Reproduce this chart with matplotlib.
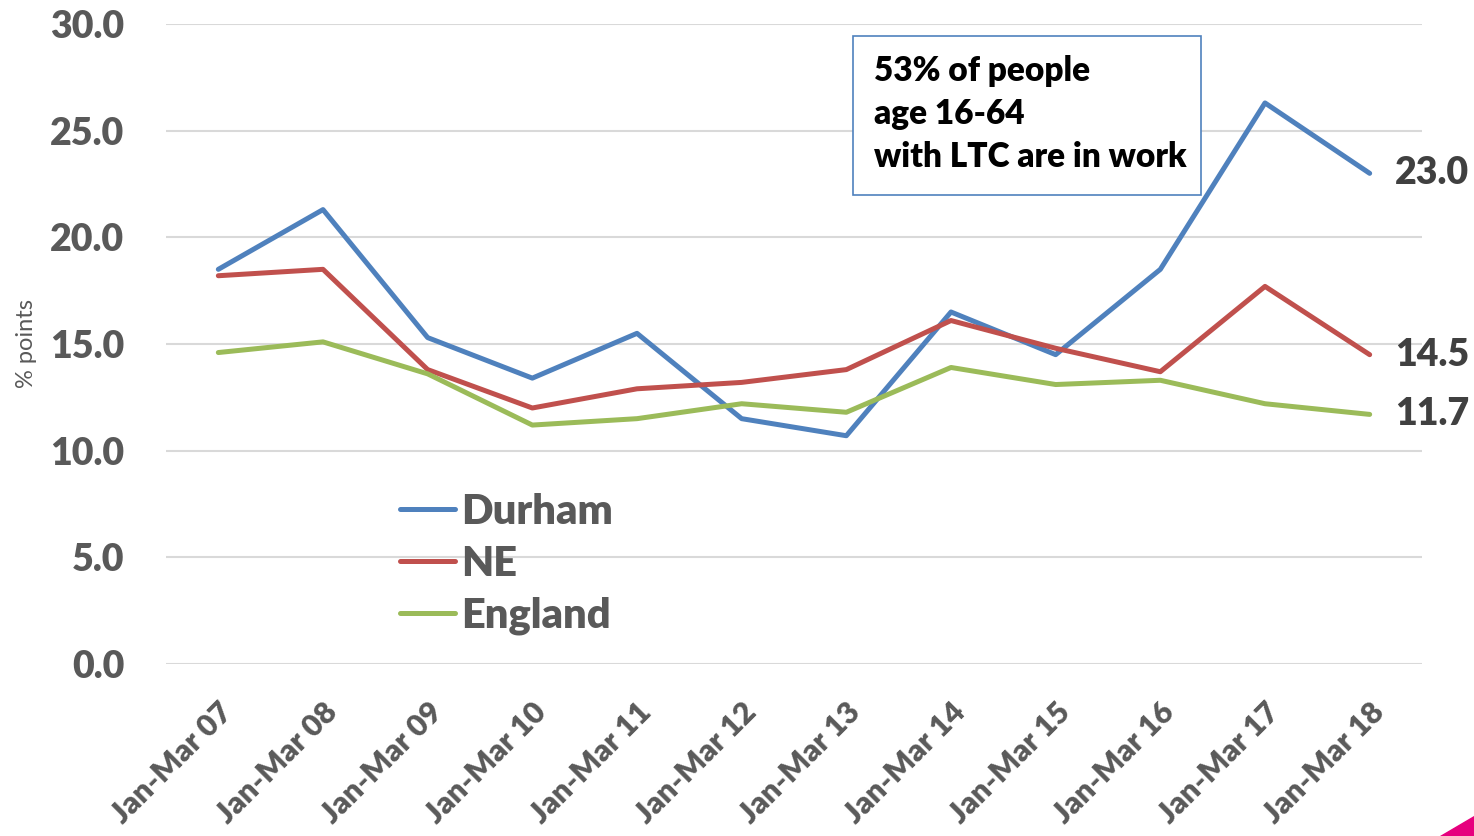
import matplotlib
matplotlib.use("Agg")
import matplotlib.pyplot as plt
from matplotlib.patches import Polygon, Rectangle

categories = ["Jan-Mar 07", "Jan-Mar 08", "Jan-Mar 09", "Jan-Mar 10", "Jan-Mar 11", "Jan-Mar 12",
              "Jan-Mar 13", "Jan-Mar 14", "Jan-Mar 15", "Jan-Mar 16", "Jan-Mar 17", "Jan-Mar 18"]
durham = [18.5, 21.3, 15.3, 13.4, 15.5, 11.5, 10.7, 16.5, 14.5, 18.5, 26.3, 23.0]
ne = [18.2, 18.5, 13.8, 12.0, 12.9, 13.2, 13.8, 16.1, 14.8, 13.7, 17.7, 14.5]
england = [14.6, 15.1, 13.6, 11.2, 11.5, 12.2, 11.8, 13.9, 13.1, 13.3, 12.2, 11.7]
series_names = ["Durham", "NE", "England"]
colors = ["#4F81BD", "#C0504D", "#9BBB59"]
yticks = [0, 5, 10, 15, 20, 25, 30]
annotation = "53% of people\nage 16-64\nwith LTC are in work"

plt.rcParams['font.family'] = ['Lato', 'DejaVu Sans']
W = 'heavy'

fig = plt.figure(figsize=(14.74, 8.36), dpi=100)
ax = fig.add_axes([166/1474, 1-664/836, (1422-166)/1474, (664-24)/836])

x = list(range(len(categories)))
for name, vals, c in zip(series_names, [durham, ne, england], colors):
    ax.plot(x, vals, color=c, lw=3.6, label=name, solid_capstyle='round', solid_joinstyle='round')

ax.set_xlim(-0.5, len(categories) - 0.5)
ax.set_ylim(0, 30)
ax.set_yticks(yticks)
ax.set_yticklabels([f"{v:.1f}" for v in yticks], fontsize=27, fontweight=W, color='#595959')
ax.set_xticks(x)
ax.set_xticklabels(categories, rotation=45, ha='right', rotation_mode='anchor',
                   fontsize=22, fontweight=W, color='#595959')
ax.tick_params(axis='y', length=0, pad=30)
ax.tick_params(axis='x', length=0, pad=24)
ax.grid(axis='y', color='#D9D9D9', lw=1.5)
ax.set_axisbelow(True)
for s in ax.spines.values():
    s.set_visible(False)

ax.set_ylabel("% points", fontsize=17, color='#595959')
ax.yaxis.set_label_coords(-0.103, 0.5)

# end labels
for vals in [durham, ne, england]:
    ax.annotate(f"{vals[-1]:.1f}", xy=(x[-1], vals[-1]), xytext=(18, 0), textcoords='offset points',
                fontsize=27, fontweight=W, color='#404040', va='center', ha='left')

leg = ax.legend(loc='upper left', bbox_to_anchor=(0.17, 0.30), frameon=False,
                prop={'size': 30, 'weight': W}, handlelength=1.3, handletextpad=0.15,
                labelspacing=0.33, borderpad=0)
for t in leg.get_texts():
    t.set_color('#595959')

ax.add_patch(Rectangle((0.547, 0.733), 0.277, 0.248, transform=ax.transAxes, fc='white',
                       ec='#4F81BD', lw=1.2, zorder=3))
ax.text(0.5637, 0.952, annotation, transform=ax.transAxes, fontsize=24, fontweight=W,
        color='black', va='top', ha='left', linespacing=1.42, zorder=4)

fig.patches.append(Polygon([[1440/1474, 0], [1474/1474, 0], [1474/1474, 20/836]], closed=True,
                           transform=fig.transFigure, color='#E6007E'))

fig.savefig("out.png", dpi=100)
